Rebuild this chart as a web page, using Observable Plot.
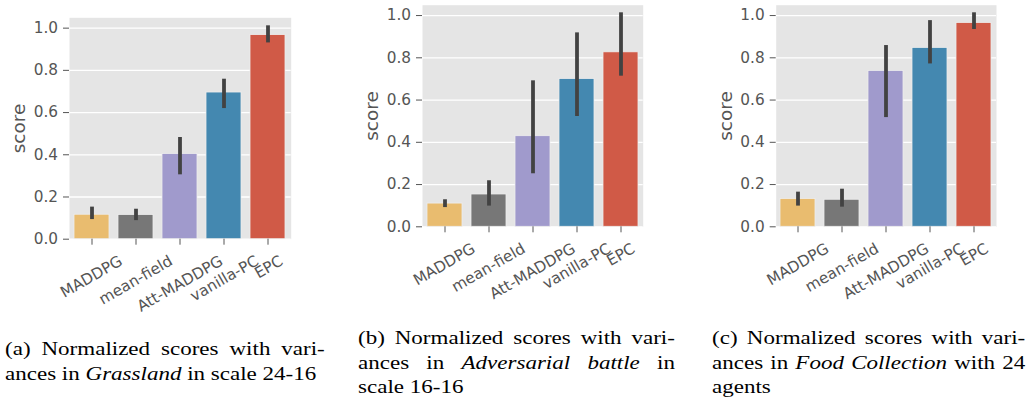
<!DOCTYPE html>
<html><head><meta charset="utf-8">
<script src="https://cdn.jsdelivr.net/npm/d3@7"></script>
<script src="https://cdn.jsdelivr.net/npm/@observablehq/plot@0.6"></script>
<style>
body{margin:0;background:#fff;width:1034px;height:402px;position:relative;overflow:hidden;}
.panel{position:absolute;top:0;}
.cap{position:absolute;font-family:"Liberation Serif","Times New Roman",serif;font-size:19.5px;line-height:24.5px;color:#000;transform:scaleX(1.18);transform-origin:0 0;}
.cap div{text-align:justify;text-align-last:justify;}
.cap div.last{text-align-last:left;}
</style></head><body>
<div id="pa" class="panel" style="left:0px"></div>
<div id="pb" class="panel" style="left:345px"></div>
<div id="pc" class="panel" style="left:690px"></div>
<div class="cap" style="left:5px;top:337px;width:271px">
  <div>(a) Normalized scores with vari-</div>
  <div class="last">ances in <i>Grassland</i> in scale 24-16</div>
</div>
<div class="cap" style="left:358px;top:326px;width:268.6px">
  <div>(b) Normalized scores with vari-</div>
  <div>ances in <i>Adversarial battle</i> in</div>
  <div class="last">scale 16-16</div>
</div>
<div class="cap" style="left:712px;top:326px;width:265.5px">
  <div>(c) Normalized scores with vari-</div>
  <div>ances in <i>Food Collection</i> with 24</div>
  <div class="last">agents</div>
</div>
<script>
const methods = ["MADDPG", "mean-field", "Att-MADDPG", "vanilla-PC", "EPC"];
const colors = ["#E9BC6F", "#777777", "#A09ACC", "#4488B0", "#D05A47"];
const yTicks = [0, 0.2, 0.4, 0.6, 0.8, 1.0];
const yLabel = "score";

const grassMean = [0.116, 0.115, 0.404, 0.695, 0.967];
const grassLo   = [0.093, 0.088, 0.305, 0.619, 0.930];
const grassHi   = [0.152, 0.142, 0.482, 0.758, 1.011];

const advMean = [0.110, 0.153, 0.429, 0.700, 0.826];
const advLo   = [0.091, 0.098, 0.251, 0.522, 0.713];
const advHi   = [0.128, 0.218, 0.691, 0.918, 1.013];

const foodMean = [0.132, 0.128, 0.738, 0.847, 0.965];
const foodLo   = [0.098, 0.093, 0.517, 0.771, 0.934];
const foodHi   = [0.164, 0.178, 0.858, 0.976, 1.013];

const yMax = 1.049;
const tickFont = 15.3;

function panel(id, mean, lo, hi, g) {
  const data = methods.map((m, i) => ({method: m, score: mean[i], lo: lo[i], hi: hi[i]}));
  const height = 300;
  const plot = Plot.plot({
    width: g.width, height,
    marginLeft: g.ml, marginRight: g.mr, marginTop: g.mt, marginBottom: g.mb,
    style: {fontFamily: "DejaVu Sans", fontSize: tickFont + "px", color: "#555555", background: "transparent", overflow: "visible"},
    x: {domain: methods, paddingInner: 0.2, paddingOuter: 0.1, label: null},
    y: {domain: [0, yMax], label: null},
    color: {domain: methods, range: colors},
    marks: [
      Plot.frame({fill: "#E5E5E5", stroke: null}),
      Plot.gridY(yTicks, {stroke: "white", strokeOpacity: 1, strokeWidth: 1.3}),
      Plot.barY(data, {x: "method", y: "score", fill: "method", stroke: "#EEEEEE", strokeWidth: 0.8}),
      Plot.ruleX(data, {x: "method", y1: "lo", y2: "hi", stroke: "#424242", strokeWidth: 3.8}),
      Plot.axisY(yTicks, {tickFormat: d3.format(".1f"), tickSize: 6, tickPadding: 5.5, stroke: "#555555", fill: "#555555", label: null}),
      Plot.axisX({tickSize: 6, tickPadding: 5, stroke: "#555555", fill: "#555555", label: null, tickRotate: -30}),
      Plot.text([yLabel], {text: d => d, y: () => yMax / 2, frameAnchor: "left", dx: -50, rotate: -90, fontSize: 18.5, fill: "#555555", textAnchor: "middle", lineAnchor: "middle"})
    ]
  });
  document.getElementById(id).append(plot);
  const bottom = height - g.mb;
  const step = (g.width - g.ml - g.mr) / methods.length;
  const a = Math.PI / 6;
  plot.querySelectorAll("text").forEach(t => {
    const i = methods.indexOf(t.textContent);
    if (i < 0) return;
    const x = g.ml + step * (i + 0.5);
    const w = t.getComputedTextLength();
    const h = tickFont;
    const H = w * Math.sin(a) + h * Math.cos(a);
    const yc = bottom + 14 + H / 2;
    if (t.parentNode && t.parentNode.removeAttribute) t.parentNode.removeAttribute("transform");
    t.removeAttribute("x");
    t.removeAttribute("y");
    t.setAttribute("text-anchor", "middle");
    t.style.textAnchor = "middle";
    t.setAttribute("dy", "0.35em");
    t.setAttribute("transform", `translate(${x},${yc}) rotate(-30)`);
  });
}

panel("pa", grassMean, grassLo, grassHi, {width: 345, ml: 69, mr: 54.3, mt: 17.3, mb: 61.3});
panel("pb", advMean, advLo, advHi, {width: 345, ml: 77, mr: 47.3, mt: 4.7, mb: 73.7});
panel("pc", foodMean, foodLo, foodHi, {width: 344, ml: 85.7, mr: 38, mt: 4.7, mb: 73.7});
</script>
</body></html>
